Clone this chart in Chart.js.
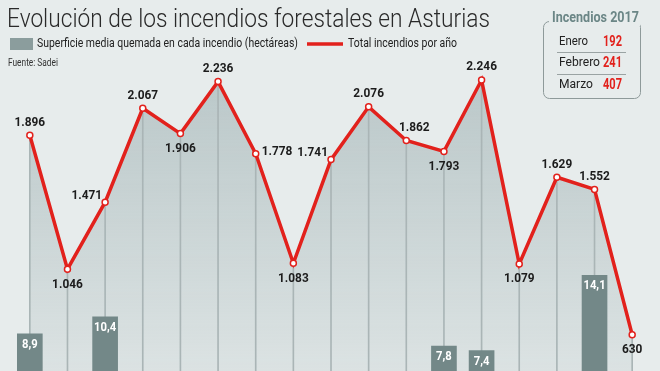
<!DOCTYPE html>
<html lang="es">
<head>
<meta charset="utf-8">
<title>Evolución de los incendios forestales en Asturias</title>
<script src="https://cdn.jsdelivr.net/npm/chart.js@4/dist/chart.umd.min.js"></script>
<style>
    html, body { margin: 0; padding: 0; background: #e7ecec; overflow: hidden; }
    #wrap { width: 660px; height: 440px; }
</style>
</head>
<body>
<div id="wrap"><canvas id="chart" width="660" height="440"></canvas></div>
<script>
// Data
const years = ['2000', '2001', '2002', '2003', '2004', '2005', '2006', '2007', '2008',
               '2009', '2010', '2011', '2012', '2013', '2014', '2015', '2016'];
const totalIncendios = [1896, 1046, 1471, 2067, 1906, 2236, 1778, 1083, 1741,
                        2076, 1862, 1793, 2246, 1079, 1629, 1552, 630];
// only the bars that rise into the visible part of the picture can be read
const superficieMedia = [8.9, null, 10.4, null, null, null, null, null, null,
                         null, null, 7.8, 7.4, null, null, 14.1, null];
const insetMonths = ['Enero', 'Febrero', 'Marzo'];
const insetValues = [192, 241, 407];

// Where each point label sits relative to its point
const labelPlacement = ['top', 'bottom', 'left', 'top', 'bottom', 'top', 'right', 'bottom', 'left',
                        'top', 'topRight', 'bottom', 'top', 'bottom', 'top', 'top', 'bottom'];

const RED = '#e2211c';
const BG = '#e7ecec';
const BAR = '#738888';

// Helpers
const fmtInt = n => String(n).replace(/\B(?=(\d{3})+(?!\d))/g, '.');
const fmtDec = v => v.toFixed(1).replace('.', ',');

// Draw text squeezed/stretched to an exact width
function fitText(ctx, text, x, y, width) {
    const w = ctx.measureText(text).width;
    ctx.save();
    ctx.translate(x, y);
    ctx.scale(width / w, 1);
    ctx.textAlign = 'left';
    ctx.fillText(text, 0, 0);
    ctx.restore();
}

// Draw text narrowed by a factor, anchored like textAlign
function narrowText(ctx, text, x, y, factor, align) {
    const w = ctx.measureText(text).width * factor;
    let left = x;
    if (align === 'center') left = x - w / 2;
    if (align === 'right') left = x - w;
    ctx.save();
    ctx.translate(left, y);
    ctx.scale(factor, 1);
    ctx.textAlign = 'left';
    ctx.fillText(text, 0, 0);
    ctx.restore();
}

// Labels, header, legend and inset box
const textPlugin = {
    id: 'textPlugin',
    afterDatasetsDraw(chart) {
        const ctx = chart.ctx;
        ctx.save();

        // Point labels
        ctx.font = 'bold 13.5px Roboto';
        ctx.fillStyle = '#1c1c1c';
        ctx.textBaseline = 'middle';
        const k = 0.88;
        chart.getDatasetMeta(0).data.forEach((pt, i) => {
            const txt = fmtInt(totalIncendios[i]);
            const pos = labelPlacement[i];
            if (pos === 'top') {
                narrowText(ctx, txt, pt.x, pt.y - 13, k, 'center');
            } else if (pos === 'bottom') {
                narrowText(ctx, txt, pt.x, pt.y + 15, k, 'center');
            } else if (pos === 'left') {
                narrowText(ctx, txt, pt.x - 3, pt.y - 7, k, 'right');
            } else if (pos === 'right') {
                narrowText(ctx, txt, pt.x + 6, pt.y - 2, k, 'left');
            } else {
                narrowText(ctx, txt, pt.x + 8, pt.y - 13, k, 'center');
            }
        });

        // Bar labels
        ctx.font = 'bold 12.5px Roboto';
        ctx.fillStyle = '#ffffff';
        chart.getDatasetMeta(1).data.forEach((bar, i) => {
            const v = superficieMedia[i];
            if (v === null) return;
            narrowText(ctx, fmtDec(v), bar.x, bar.y + 11, 0.9, 'center');
        });
        ctx.restore();
    },
    afterDraw(chart) {
        const ctx = chart.ctx;
        ctx.save();
        ctx.textBaseline = 'alphabetic';

        // Title
        ctx.font = '300 25px Roboto';
        ctx.fillStyle = '#2a2a2a';
        fitText(ctx, 'Evolución de los incendios forestales en Asturias', 7, 27, 483);

        // Legend
        ctx.textBaseline = 'middle';
        ctx.fillStyle = '#8b9d9d';
        ctx.fillRect(10, 38, 23, 12);
        ctx.font = '13px Roboto';
        ctx.fillStyle = '#222';
        fitText(ctx, 'Superficie media quemada en cada incendio (hectáreas)', 37, 44, 261);
        ctx.strokeStyle = RED;
        ctx.lineWidth = 3.5;
        ctx.beginPath();
        ctx.moveTo(307, 44);
        ctx.lineTo(343, 44);
        ctx.stroke();
        fitText(ctx, 'Total incendios por año', 348, 44, 109);

        // Source
        ctx.font = '10px Roboto';
        ctx.fillStyle = '#333';
        fitText(ctx, 'Fuente: Sadei', 8, 63, 50);

        // Inset box
        ctx.strokeStyle = '#8e9a9a';
        ctx.lineWidth = 1;
        ctx.beginPath();
        ctx.roundRect(543.5, 21.5, 97, 77, 6);
        ctx.stroke();
        ctx.fillStyle = BG;
        ctx.fillRect(549, 12, 91, 14);
        ctx.font = 'bold 14px Roboto';
        ctx.fillStyle = '#6b8686';
        fitText(ctx, 'Incendios 2017', 552, 18, 87);

        ctx.strokeStyle = '#9aa3a3';
        [52.5, 74.5].forEach(y => {
            ctx.beginPath();
            ctx.moveTo(557, y);
            ctx.lineTo(626, y);
            ctx.stroke();
        });
        const rowY = [42, 63, 85];
        const monthW = [29, 41, 34];
        insetMonths.forEach((m, i) => {
            ctx.font = '13px Roboto';
            ctx.fillStyle = '#222';
            fitText(ctx, m, 559, rowY[i], monthW[i]);
            ctx.font = 'bold 14px Roboto';
            ctx.fillStyle = RED;
            fitText(ctx, String(insetValues[i]), 603, rowY[i], 19);
        });
        ctx.restore();
    }
};

const ctx = document.getElementById('chart').getContext('2d');

new Chart(ctx, {
    type: 'line',
    data: {
        labels: years,
        datasets: [{
            type: 'line',
            label: 'Total incendios por año',
            data: totalIncendios,
            yAxisID: 'y',
            order: 0,
            borderColor: RED,
            borderWidth: 3.5,
            tension: 0,
            fill: 'origin',
            backgroundColor: (c) => {
                const area = c.chart.chartArea;
                if (!area) return 'rgba(0,0,0,0)';
                const g = c.chart.ctx.createLinearGradient(0, area.top, 0, area.bottom);
                g.addColorStop(0, 'rgba(150,170,172,0.6)');
                g.addColorStop(1, 'rgba(150,170,172,0.05)');
                return g;
            },
            pointRadius: 3,
            pointBorderWidth: 1.5,
            pointBackgroundColor: '#ffffff',
            pointBorderColor: RED
        }, {
            type: 'bar',
            label: 'Superficie media quemada en cada incendio (hectáreas)',
            data: superficieMedia,
            yAxisID: 'y2',
            order: 1,
            grouped: false,
            barThickness: 25,
            backgroundColor: BAR
        }, {
            // thin drop lines under each point
            type: 'bar',
            label: 'guía',
            data: totalIncendios,
            yAxisID: 'y',
            order: 2,
            grouped: false,
            barThickness: 1,
            backgroundColor: '#aab5b6'
        }]
    },
    options: {
        responsive: false,
        animation: false,
        layout: {
            padding: { left: 11, right: 9, top: 40, bottom: 6 }
        },
        plugins: {
            legend: { display: false },
            tooltip: { enabled: false },
            filler: { drawTime: 'beforeDatasetsDraw' }
        },
        scales: {
            x: { display: false, offset: true },
            y: { display: false, min: 0, max: 2500 },
            y2: { display: false, min: 0, max: 35 }
        }
    },
    plugins: [textPlugin]
});
</script>
</body>
</html>
